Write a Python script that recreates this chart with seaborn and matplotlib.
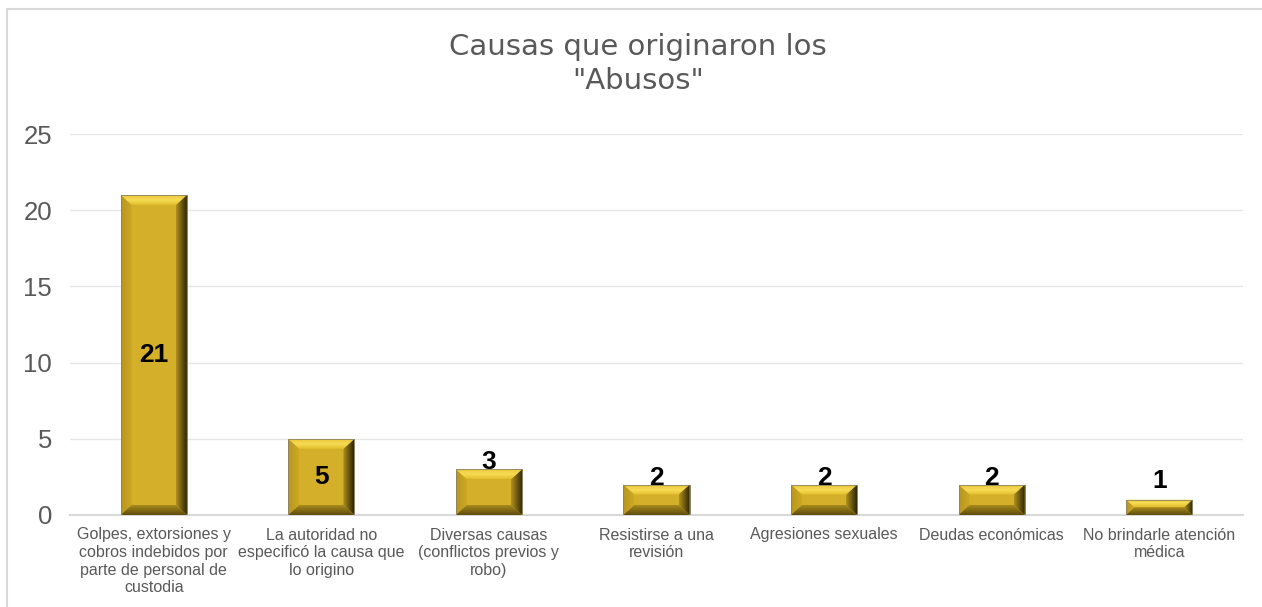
import matplotlib
matplotlib.use("Agg")
import matplotlib.pyplot as plt
from matplotlib.patches import Polygon
from matplotlib.lines import Line2D
from matplotlib.colors import LinearSegmentedColormap
import numpy as np
import seaborn as sns
import pandas as pd

categories = [
    "Golpes, extorsiones y\ncobros indebidos por\nparte de personal de\ncustodia",
    "La autoridad no\nespecificó la causa que\nlo origino",
    "Diversas causas\n(conflictos previos y\nrobo)",
    "Resistirse a una\nrevisión",
    "Agresiones sexuales",
    "Deudas económicas",
    "No brindarle atención\nmédica",
]
values = [21, 5, 3, 2, 2, 2, 1]
y_ticks = [0, 5, 10, 15, 20, 25]
title = 'Causas que originaron los\n"Abusos"'

df = pd.DataFrame({"causa": categories, "casos": values})

sns.set_theme(style="white")
plt.rcParams["font.family"] = ["Liberation Sans", "DejaVu Sans"]

W, H = 1262, 607
fig = plt.figure(figsize=(W / 100, H / 100), dpi=100)
fig.patch.set_facecolor("white")

# chart frame (top and left edges visible)
fig.add_artist(Line2D([7 / W, 7 / W], [0, 1 - 9 / H], transform=fig.transFigure,
                      color="#D9D9D9", lw=1.5))
fig.add_artist(Line2D([7 / W, 1], [1 - 9 / H, 1 - 9 / H], transform=fig.transFigure,
                      color="#D9D9D9", lw=1.5))

ax_l, ax_r, ax_b, ax_t = 70, 1243, 515, 134
ax = fig.add_axes([ax_l / W, 1 - ax_b / H, (ax_r - ax_l) / W, (ax_b - ax_t) / H])

face = "#D4AF29"
sns.barplot(data=df, x="causa", y="casos", ax=ax, color=face, saturation=1,
            width=0.395, edgecolor="#8A8A6A", linewidth=0.6, zorder=2)

ax.set_ylim(0, 25)
ax.set_xlim(-0.5, len(categories) - 0.5)
ax.set_yticks(y_ticks)
ax.set_yticklabels([str(t) for t in y_ticks])
ax.set_xlabel("")
ax.set_ylabel("")
ax.grid(axis="y", color="#E6E6E6", lw=1.0, zorder=0)
ax.set_axisbelow(True)
for s in ["top", "right", "left"]:
    ax.spines[s].set_visible(False)
ax.spines["bottom"].set_color("#D9D9D9")
ax.spines["bottom"].set_linewidth(1.5)
ax.tick_params(axis="y", length=0, pad=13, labelsize=18.5, labelcolor="#595959")
ax.tick_params(axis="x", length=0, pad=9, labelsize=11.5, labelcolor="#595959")
for lbl in ax.get_xticklabels():
    lbl.set_linespacing(1.22)

cm_top = LinearSegmentedColormap.from_list("top", ["#E2BC2C", "#F6DC55", "#E9C63A"])
cm_left = LinearSegmentedColormap.from_list("left", ["#B8961E", "#CDA825"])
cm_right = LinearSegmentedColormap.from_list("right", ["#B0901E", "#2E2506"])
cm_bot = LinearSegmentedColormap.from_list("bot", ["#A88A1C", "#5E4C0E"])


def shade(poly_pts, extent, cmap, horizontal):
    """Fill a bevel facet with a linear gradient clipped to its outline."""
    poly = Polygon(poly_pts, closed=True, facecolor="none", edgecolor="none",
                   transform=ax.transData)
    ax.add_patch(poly)
    g = np.linspace(0, 1, 64)
    arr = g[None, :] if horizontal else g[:, None]
    im = ax.imshow(arr, cmap=cmap, extent=extent, origin="lower", aspect="auto",
                   interpolation="bilinear", zorder=3)
    im.set_clip_path(poly)


# bevel shading on each bar
px_x = len(categories) / (ax_r - ax_l)
px_y = 25 / (ax_b - ax_t)
for p in list(ax.patches):
    x0, y0 = p.get_x(), p.get_y()
    w, h = p.get_width(), p.get_height()
    x1, y1 = x0 + w, y0 + h
    by = min(10 * px_y, h / 2)
    bxs = min(11 * px_x, w / 2, by * px_x / px_y * 1.1)
    top = [(x0, y1), (x1, y1), (x1 - bxs, y1 - by), (x0 + bxs, y1 - by)]
    bot = [(x0, y0), (x1, y0), (x1 - bxs, y0 + by), (x0 + bxs, y0 + by)]
    left = [(x0, y0), (x0, y1), (x0 + bxs, y1 - by), (x0 + bxs, y0 + by)]
    right = [(x1, y0), (x1, y1), (x1 - bxs, y1 - by), (x1 - bxs, y0 + by)]
    shade(left, (x0, x0 + bxs, y0, y1), cm_left, True)
    shade(right, (x1 - bxs, x1, y0, y1), cm_right, True)
    shade(top, (x0, x1, y1 - by, y1), cm_top, False)
    shade(bot, (x0, x1, y0, y0 + by), cm_bot.reversed(), False)
    ax.add_patch(Polygon([(x0, y0), (x1, y0), (x1, y1), (x0, y1)], closed=True,
                         facecolor="none", edgecolor="#8A8466", lw=0.6, zorder=4))

ax.set_ylim(0, 25)
ax.set_xlim(-0.5, len(categories) - 0.5)

# value labels
for i, v in enumerate(values):
    if v >= 5:
        ax.text(i, v / 2, str(v), ha="center", va="center", fontsize=19,
                fontweight="bold", color="black", zorder=5)
    else:
        ax.text(i, max(v, 1.78), str(v), ha="center", va="baseline", fontsize=19,
                fontweight="bold", color="black", zorder=5)

fig.text(638 / W, 1 - 64 / H, title, ha="center", va="center", fontsize=21,
         color="#595959", family="DejaVu Sans", linespacing=1.3)

fig.savefig("out.png", dpi=100, facecolor="white")
